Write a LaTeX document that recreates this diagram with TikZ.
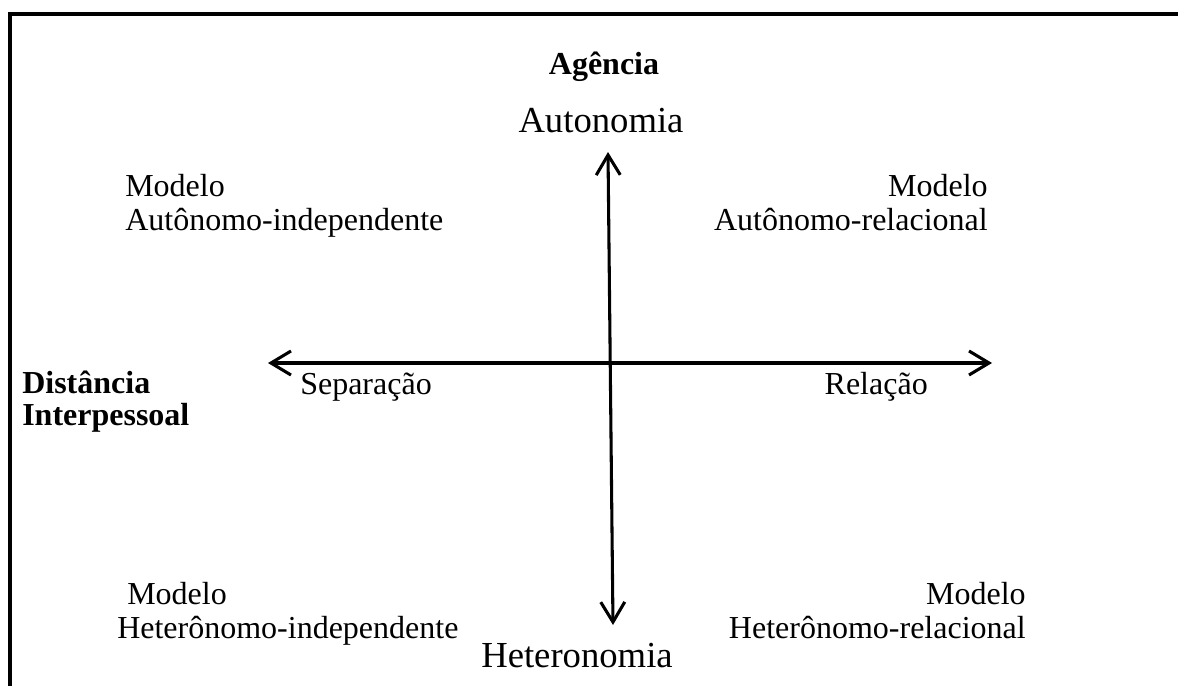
\documentclass[tikz,border=0pt]{standalone}
\usepackage{fontspec}
\setmainfont{Liberation Serif}
\usetikzlibrary{arrows.meta}

\begin{document}
\begin{tikzpicture}[
x=0.75pt, y=-0.75pt,
txt/.style={font=\fontsize{24}{29}\selectfont, inner sep=0pt},
hd/.style={font=\fontsize{24}{29}\selectfont\bfseries, inner sep=0pt},
pole/.style={font=\fontsize{27.5}{33}\selectfont, inner sep=0pt},
axis/.style={{Straight Barb[length=15pt,width=18pt]}-{Straight Barb[length=15pt,width=18pt]},line width=2.3pt},
frame/.style={line width=3.4pt} ]

\useasboundingbox (0,0) rectangle (1178,686);

% frame
\coordinate (F1) at (10,686);
\coordinate (F2) at (10,14);
\coordinate (F3) at (1178,14);
\draw[frame] (F1) -- (F2) -- (F3);

% axes
\coordinate (N) at (608,152);
\coordinate (S) at (613,625);
\coordinate (W) at (268,363);
\coordinate (E) at (992,363);
\draw[axis] (S) -- (N);
\draw[axis] (W) -- (E);

% titles
\node[hd, anchor=base](ag) at (604,74) {Agência};
\node[pole, anchor=base](auto) at (601,132) {Autonomia};
\node[pole, anchor=base](hetero) at (577,667) {Heteronomia};
\node[hd, anchor=base west](dist) at (22,393) {Distância};
\node[hd, anchor=base west](inter) at (22,425) {Interpessoal};
\node[txt, anchor=base west](sep) at (300,394) {Separação};
\node[txt, anchor=base east](rel) at (928,394) {Relação};

% quadrants
\node[txt, anchor=base west](m1) at (125,196) {Modelo};
\node[txt, anchor=base west](ai) at (125,230) {Autônomo-independente};
\node[txt, anchor=base east](m2) at (988,196) {Modelo};
\node[txt, anchor=base east](ar) at (988,230) {Autônomo-relacional};
\node[txt, anchor=base west](m3) at (127,604) {Modelo};
\node[txt, anchor=base west](hi) at (117,638) {Heterônomo-independente};
\node[txt, anchor=base east](m4) at (1026,604) {Modelo};
\node[txt, anchor=base east](hr) at (1026,638) {Heterônomo-relacional};
\end{tikzpicture}
\end{document}
